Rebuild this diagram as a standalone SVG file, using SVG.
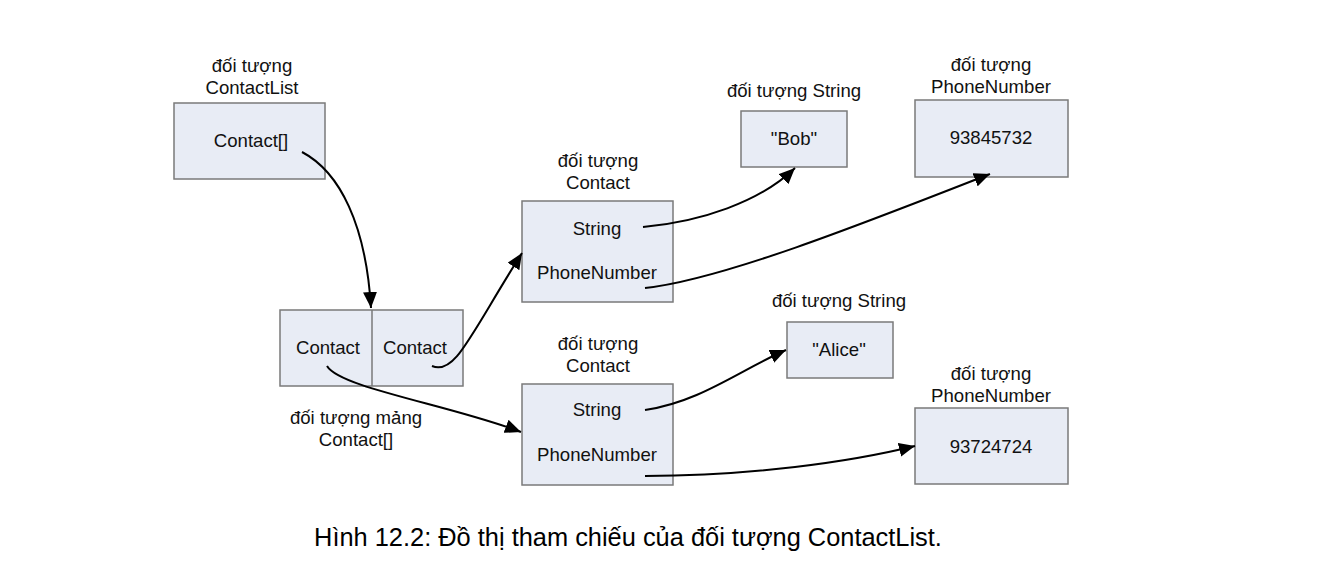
<svg xmlns="http://www.w3.org/2000/svg" width="1330" height="570" viewBox="0 0 1330 570">
<defs>
<marker id="arr" markerUnits="userSpaceOnUse" markerWidth="18" markerHeight="14" refX="16" refY="7" orient="auto">
<path d="M0,0 L16,7 L0,14 Z" fill="#000"/>
</marker>
<style>
.box{fill:#E8ECF5;stroke:#7a7a7a;stroke-width:1.5}
.t{font-family:"Liberation Sans",Arial,sans-serif;font-size:18.6px;fill:#111;text-anchor:middle}
.cap{font-family:"Liberation Sans",Arial,sans-serif;font-size:25.4px;fill:#000;text-anchor:middle}
.c{fill:none;stroke:#000;stroke-width:2;marker-end:url(#arr)}
</style>
</defs>
<rect width="1330" height="570" fill="#fff"/>
<g id="contactlist">
<text class="t" x="252" y="72">đối tượng</text>
<text class="t" x="252" y="94">ContactList</text>
<rect class="box" x="174" y="103" width="151" height="76"/>
<text class="t" x="251" y="147">Contact[]</text>
</g>
<g id="array">
<rect class="box" x="280" y="310" width="183" height="76"/>
<line x1="372" y1="310" x2="372" y2="386" stroke="#7a7a7a" stroke-width="1.5"/>
<text class="t" x="328" y="354">Contact</text>
<text class="t" x="415" y="354">Contact</text>
<text class="t" x="356" y="424">đối tượng mảng</text>
<text class="t" x="356" y="446">Contact[]</text>
</g>
<g id="contact1">
<text class="t" x="598" y="167">đối tượng</text>
<text class="t" x="598" y="189">Contact</text>
<rect class="box" x="522" y="201" width="151" height="101"/>
<text class="t" x="597" y="235">String</text>
<text class="t" x="597" y="279">PhoneNumber</text>
</g>
<g id="contact2">
<text class="t" x="598" y="350">đối tượng</text>
<text class="t" x="598" y="372">Contact</text>
<rect class="box" x="522" y="384" width="151" height="101"/>
<text class="t" x="597" y="416">String</text>
<text class="t" x="597" y="461">PhoneNumber</text>
</g>
<g id="bob">
<text class="t" x="794" y="97">đối tượng String</text>
<rect class="box" x="741" y="111" width="106" height="56"/>
<text class="t" x="794" y="145">"Bob"</text>
</g>
<g id="phone1">
<text class="t" x="991" y="71">đối tượng</text>
<text class="t" x="991" y="93">PhoneNumber</text>
<rect class="box" x="915" y="100" width="153" height="77"/>
<text class="t" x="991" y="144">93845732</text>
</g>
<g id="alice">
<text class="t" x="839" y="307">đối tượng String</text>
<rect class="box" x="787" y="322" width="106" height="56"/>
<text class="t" x="839" y="356">"Alice"</text>
</g>
<g id="phone2">
<text class="t" x="991" y="380">đối tượng</text>
<text class="t" x="991" y="402">PhoneNumber</text>
<rect class="box" x="915" y="408" width="153" height="76"/>
<text class="t" x="991" y="453">93724724</text>
</g>
<g id="connectors">
<path class="c" d="M302,152 C340,172 366,225 371,308"/>
<path class="c" d="M432,366 C455,376 470,335 522,253"/>
<path class="c" d="M327,366 C340,388 450,405 521,432"/>
<path class="c" d="M643,227 C700,222 760,202 795,168"/>
<path class="c" d="M645,288 C720,280 860,225 990,174"/>
<path class="c" d="M645,410 C700,402 740,370 786,350"/>
<path class="c" d="M645,476 C750,476 850,462 915,446"/>
</g>
<text class="cap" x="628" y="546">Hình 12.2: Đồ thị tham chiếu của đối tượng ContactList.</text>
</svg>
